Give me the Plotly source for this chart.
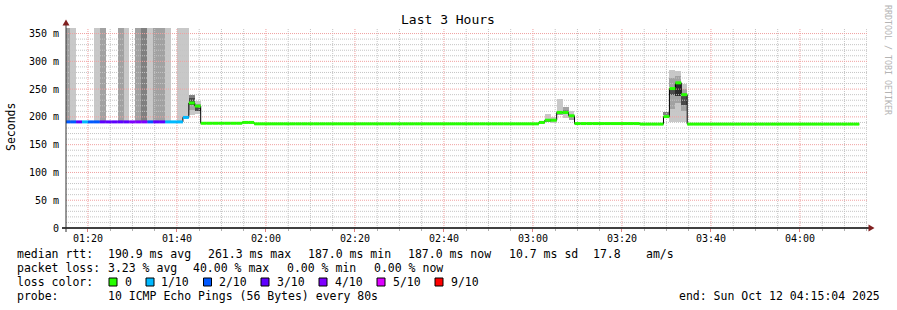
import pandas as pd
import plotly.graph_objects as go

# ---------------- data ----------------
step_start = "2025-10-12 01:14:40"   # first 80 s step (partly before window)
step_seconds = 80
window_start = "2025-10-12 01:15:04"
window_end = "2025-10-12 04:15:04"

# median rtt per 80 s step, in ms (134 steps)
median_rtt = [
    191.0, 191.0, 191.0, 191.0, 191.0, 191.0, 191.0, 191.0, 191.0, 191.0,
    191.0, 191.0, 191.0, 191.0, 191.0, 191.0, 191.0, 191.0, 191.0, 191.0,
    199.0, 225.0, 219.5, 188.5, 188.5, 188.5, 188.5, 188.5, 188.5, 188.5,
    190.0, 190.0, 187.5, 187.5, 187.5, 187.5, 187.5, 187.5, 187.5, 187.5,
    187.5, 187.5, 187.5, 187.5, 187.5, 187.5, 187.5, 187.5, 187.5, 187.5,
    187.5, 187.5, 187.5, 187.5, 187.5, 187.5, 187.5, 187.5, 187.5, 187.5,
    187.5, 187.5, 187.5, 187.5, 187.5, 187.5, 187.5, 187.5, 187.5, 187.5,
    187.5, 187.5, 187.5, 187.5, 187.5, 187.5, 187.5, 187.5, 187.5, 187.5,
    190.0, 194.0, 194.0, 208.0, 208.0, 202.0, 188.0, 188.0, 188.0, 188.0,
    188.0, 188.0, 188.0, 188.0, 188.0, 188.0, 188.0, 187.0, 187.0, 187.0,
    187.0, 200.5, 251.0, 261.3, 240.0, 187.0, 187.0, 187.0, 187.0, 187.0,
    187.0, 187.0, 187.0, 187.0, 187.0, 187.0, 187.0, 187.0, 187.0, 187.0,
    187.0, 187.0, 187.0, 187.0, 187.0, 187.0, 187.0, 187.0, 187.0, 187.0,
    187.0, 187.0, 187.0, 187.0,
]

# lost pings (out of 10) per step
loss_count = [
    2, 2, 3, 1, 2, 2, 3, 3, 3, 3,
    3, 4, 4, 4, 2, 3, 3, 1, 1, 1,
    1, 0, 0, 0, 0, 0, 0, 0, 0, 0,
    0, 0, 0, 0, 0, 0, 0, 0, 0, 0,
    0, 0, 0, 0, 0, 0, 0, 0, 0, 0,
    0, 0, 0, 0, 0, 0, 0, 0, 0, 0,
    0, 0, 0, 0, 0, 0, 0, 0, 0, 0,
    0, 0, 0, 0, 0, 0, 0, 0, 0, 0,
    0, 0, 0, 0, 0, 0, 0, 0, 0, 0,
    0, 0, 0, 0, 0, 0, 0, 0, 0, 0,
    0, 0, 0, 0, 0, 0, 0, 0, 0, 0,
    0, 0, 0, 0, 0, 0, 0, 0, 0, 0,
    0, 0, 0, 0, 0, 0, 0, 0, 0, 0,
    0, 0, 0, 0,
]

# smoke bands: step index, low ms, high ms, density (1 light .. 5 dark)
smoke_step = [0, 1, 5, 6, 9, 10, 12, 13, 14, 15, 16, 17, 19, 20,
              21, 21, 21, 21, 22, 22, 22, 22,
              80, 81, 81, 82, 83, 83, 84, 84, 84, 85, 85, 94, 95,
              101, 102, 102, 102, 102, 102, 103, 103, 103, 103, 103,
              104, 104, 104, 104, 104]
smoke_low = [193, 193, 193, 193, 193, 193, 193, 193, 193, 193, 193, 193, 193, 201,
             203, 212, 222, 234, 205, 211, 217, 224,
             190, 191, 196, 189, 203, 210, 198, 206, 212, 195, 204, 188, 188,
             203, 191, 215, 239, 253, 270, 191, 225, 237, 263, 274,
             191, 210, 221, 242, 251]
smoke_high = [360, 360, 360, 360, 360, 360, 360, 360, 360, 360, 360, 360, 360, 360,
              212, 222, 234, 240, 211, 217, 224, 228,
              193, 196, 205, 199, 210, 232, 206, 212, 218, 200, 210, 191, 191,
              209, 215, 239, 249, 270, 284, 225, 237, 259, 274, 282,
              210, 221, 237, 251, 259]
smoke_density = [2, 1, 1, 2, 2, 1, 2, 3, 1, 2, 2, 1, 1, 1,
                 1, 2, 4, 3, 1, 4, 2, 1,
                 2, 3, 1, 1, 2, 1, 1, 3, 2, 2, 1, 1, 1,
                 3, 1, 2, 4, 2, 1, 1, 2, 5, 2, 1,
                 1, 2, 4, 2, 1]

y_tick_values = [0, 50, 100, 150, 200, 250, 300, 350]
y_tick_labels = ["0", "50 m", "100 m", "150 m", "200 m", "250 m", "300 m", "350 m"]

loss_legend_counts = [0, 1, 2, 3, 4, 5, 9]
loss_legend_labels = ["0", "1/10", "2/10", "3/10", "4/10", "5/10", "9/10"]

rtt_stats = [190.9, 261.3, 187.0, 187.0]   # avg, max, min, now (ms)
rtt_sd = 10.7
rtt_ams = 17.8
loss_stats = [3.23, 40.00, 0.00, 0.00]     # avg, max, min, now (%)
probe_text = "10 ICMP Echo Pings (56 Bytes) every 80s"
end_text = "end: Sun Oct 12 04:15:04 2025"
title_text = "Last 3 Hours"

# ---------------- styles ----------------
LOSS_COLORS = {0: "#26ff00", 1: "#00b8ff", 2: "#0059ff", 3: "#5e00ff",
               4: "#7e00ff", 5: "#dd00ff", 9: "#ff0000"}
SMOKE_COLORS = {1: "#c8c8c8", 2: "#a2a2a2", 3: "#808080", 4: "#4a4a4a", 5: "#2a2a2a"}
MONO = "DejaVu Sans Mono"

W, H = 897, 310
PL, PR, PT, PB = 66, 867, 28, 228
PW, PH = PR - PL, PB - PT


def fx(px):
    return (px - PL) / PW


def fy(py):
    return (PB - py) / PH


times = pd.date_range(step_start, periods=len(median_rtt) + 1, freq=f"{step_seconds}s")
tstr = [t.strftime("%Y-%m-%d %H:%M:%S") for t in times]

fig = go.Figure()

# smoke
for lvl, col in SMOKE_COLORS.items():
    xs, bases, hs = [], [], []
    for s, lo, hi, d in zip(smoke_step, smoke_low, smoke_high, smoke_density):
        if d == lvl:
            xs.append(tstr[s])
            bases.append(lo)
            hs.append(hi - lo)
    if xs:
        fig.add_trace(go.Bar(x=xs, y=hs, base=bases, width=step_seconds * 1000, offset=0,
                             marker=dict(color=col, line=dict(width=0)),
                             hoverinfo="skip", showlegend=False))

# grid (drawn over smoke, like rrdtool)
grid_times = pd.date_range("2025-10-12 01:20:00", "2025-10-12 04:15:00", freq="5min")
for major in (False, True):
    gx, gy = [], []
    for t in grid_times:
        if (t.minute % 20 == 0) == major:
            s = t.strftime("%Y-%m-%d %H:%M:%S")
            gx += [s, s, None]
            gy += [0, 360, None]
    for v in range(10, 360, 10):
        if (v % 50 == 0) == major:
            gx += [window_start, window_end, None]
            gy += [v, v, None]
    fig.add_trace(go.Scatter(x=gx, y=gy, mode="lines",
                             line=dict(color="#f0a0a0" if major else "#c4c4c4", width=1,
                                       dash="1px,1px"),
                             hoverinfo="skip", showlegend=False))

# black median line
fig.add_trace(go.Scatter(x=tstr, y=median_rtt + [median_rtt[-1]], mode="lines",
                         line=dict(color="#000000", width=1, shape="hv"),
                         hoverinfo="skip", showlegend=False))

# loss-coloured median segments
for lc, col in LOSS_COLORS.items():
    xs, ys = [], []
    for k, (m, l) in enumerate(zip(median_rtt, loss_count)):
        if l == lc:
            xs += [tstr[k], tstr[k + 1], None]
            ys += [m, m, None]
    if xs:
        fig.add_trace(go.Scatter(x=xs, y=ys, mode="lines",
                                 line=dict(color=col, width=3),
                                 hoverinfo="skip", showlegend=False))

fig.update_layout(
    width=W, height=H,
    margin=dict(l=PL, r=W - PR, t=PT, b=H - PB),
    paper_bgcolor="#ffffff", plot_bgcolor="#ffffff",
    barmode="overlay", bargap=0, showlegend=False,
    font=dict(family=MONO, size=10, color="#000000"),
)
fig.update_xaxes(
    type="date", range=[window_start, window_end],
    tickformat="%H:%M", tick0="2025-10-12 00:00:00", dtick=20 * 60 * 1000,
    showgrid=False, zeroline=False, showline=False,
    ticks="outside", ticklen=3, tickcolor="#e08080", tickwidth=1,
    ticklabelstandoff=-2,
    minor=dict(dtick=5 * 60 * 1000, ticks="outside", ticklen=2, tickcolor="#b0b0b0",
               showgrid=False),
    tickfont=dict(family=MONO, size=10, color="#000000"),
)
fig.update_yaxes(
    range=[0, 360], tickmode="array", tickvals=y_tick_values, ticktext=y_tick_labels,
    showgrid=False, zeroline=False, showline=False,
    ticks="outside", ticklen=4, tickcolor="rgba(0,0,0,0)",
    tickfont=dict(family=MONO, size=10, color="#000000"),
)

shapes = []
# axes
shapes.append(dict(type="line", xref="paper", yref="paper", x0=fx(62), x1=fx(869),
                   y0=0, y1=0, line=dict(color="#000000", width=1.5), layer="above"))
shapes.append(dict(type="line", xref="paper", yref="paper", x0=0, x1=0,
                   y0=fy(232), y1=fy(25), line=dict(color="#303030", width=1), layer="above"))
# arrows
shapes.append(dict(type="path", xref="paper", yref="paper",
                   path=f"M {fx(62.5)} {fy(25.5)} L {fx(69.5)} {fy(25.5)} L {fx(66)} {fy(19.5)} Z",
                   fillcolor="#802020", line=dict(width=0), layer="above"))
shapes.append(dict(type="path", xref="paper", yref="paper",
                   path=f"M {fx(868.5)} {fy(224.5)} L {fx(868.5)} {fy(231.5)} L {fx(874.5)} {fy(228)} Z",
                   fillcolor="#802020", line=dict(width=0), layer="above"))

ann = []


def text(px, py, s, size=11.5, anchor="left", color="#000000", angle=0):
    ann.append(dict(xref="paper", yref="paper", x=fx(px), y=fy(py),
                    text=s.replace(" ", "\u00a0"), showarrow=False,
                    xanchor=anchor, yanchor="middle", borderpad=0, textangle=angle,
                    font=dict(family=MONO, size=size, color=color)))


text(448, 19, title_text, size=13, anchor="center")
text(11, 127, "Seconds", size=11.5, anchor="center", angle=-90)
text(888, 60, "RRDTOOL / TOBI OETIKER", size=8.3, anchor="center", color="#b4b4b4", angle=90)

y1, y2, y3, y4 = 254, 268, 282, 296
text(16, y1, "median rtt:")
text(107.3, y1, f"{rtt_stats[0]:.1f} ms avg")
text(207.3, y1, f"{rtt_stats[1]:.1f} ms max")
text(307.3, y1, f"{rtt_stats[2]:.1f} ms min")
text(407.3, y1, f"{rtt_stats[3]:.1f} ms now")
text(507.5, y1, f"{rtt_sd:.1f} ms sd")
text(592.3, y1, f"{rtt_ams:.1f}")
text(645, y1, "am/s")

text(16, y2, "packet loss:")
text(107.3, y2, f"{loss_stats[0]:.2f} % avg")
text(192.3, y2, f"{loss_stats[1]:.2f} % max")
text(286, y2, f"{loss_stats[2]:.2f} % min")
text(373, y2, f"{loss_stats[3]:.2f} % now")

text(16, y3, "loss color:")
box_x = [109, 146, 203.5, 261, 319, 377, 435]
lab_x = [124, 160, 217.7, 276, 333.7, 391.7, 450]
for bx, lx, c, lab in zip(box_x, lab_x, loss_legend_counts, loss_legend_labels):
    shapes.append(dict(type="rect", xref="paper", yref="paper",
                       x0=fx(bx), x1=fx(bx + 8), y0=fy(278), y1=fy(286),
                       fillcolor=LOSS_COLORS[c], line=dict(color="#000000", width=1),
                       layer="above"))
    text(lx, y3, lab)

text(16, y4, "probe:")
text(107.3, y4, probe_text)
text(881, y4, end_text, anchor="right")

fig.update_layout(shapes=shapes, annotations=ann)
fig.write_html("out.html")
